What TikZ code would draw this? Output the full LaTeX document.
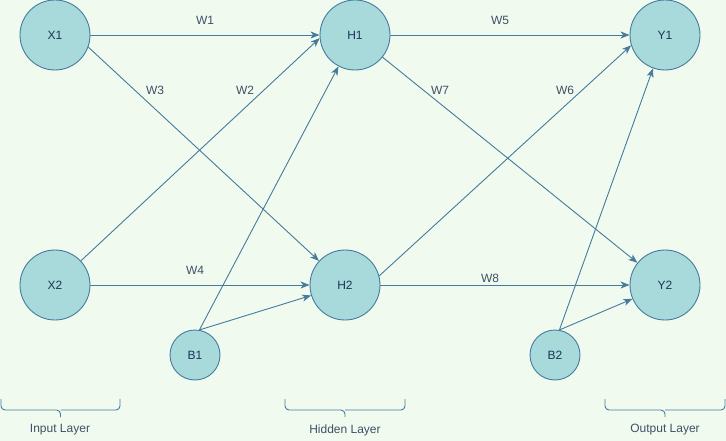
\documentclass[tikz,border=0pt]{standalone}
\usepackage{fontspec}
\setmainfont{Liberation Sans}
\usepackage{xcolor}
\usetikzlibrary{arrows.meta}
\definecolor{bgcol}{HTML}{F1FAEE}
\definecolor{fillcol}{HTML}{A8DADC}
\definecolor{linecol}{HTML}{457B9D}
\definecolor{txtcol}{HTML}{1D3557}
\definecolor{lblcol}{HTML}{3F5166}
% layer bracket from x=#1 to x=#2
\newcommand{\layerbrace}[2]{%
    \draw[bracket] (#1,399) |- ({(#1+#2)/2},410) -- ++(0,7);
    \draw[bracket] (#2,399) |- ({(#1+#2)/2},410);
}

\begin{document}
\begin{tikzpicture}[x=1pt,y=-1pt]
    \tikzstyle{every node}=[font={\fontsize{12}{14}\selectfont}]
    \tikzstyle{neuron}=[circle, draw=linecol, fill=fillcol, line width=0.9pt, minimum size=70pt, inner sep=0pt, text=txtcol]
    \tikzstyle{bias}=[neuron, minimum size=50pt]
    \tikzstyle{conn}=[draw=linecol, line width=0.9pt, -{Stealth[length=9pt,width=7pt,inset=2.5pt]}]
    \tikzstyle{wlabel}=[text=lblcol, inner sep=1pt]
    \tikzstyle{bracket}=[draw=linecol, line width=0.9pt, rounded corners=4pt]
    \fill[bgcol] (0,0) rectangle (726,441);
    \useasboundingbox (0,0) rectangle (726,441);
    % neurons
    \node[neuron] (x1) at (55,35) {X1};
    \node[neuron] (x2) at (55,285) {X2};
    \node[neuron] (h1) at (355,35) {H1};
    \node[neuron] (h2) at (345,285) {H2};
    \node[neuron] (y1) at (665,35) {Y1};
    \node[neuron] (y2) at (665,285) {Y2};
    \node[bias] (b1) at (195,355) {B1};
    \node[bias] (b2) at (555,355) {B2};
    % weights
    \draw[conn] (x1) -- (h1);
    \draw[conn] (x1.-20) -- (h2);
    \draw[conn] (x2) -- (h1.185);
    \draw[conn] (x2) -- (h2);
    \draw[conn] (b1.80) -- (h1);
    \draw[conn] (b1.80) -- (h2);
    \draw[conn] (h1) -- (y1);
    \draw[conn] (h1) -- (y2);
    \draw[conn] (h2.15) -- (y1.197);
    \draw[conn] (h2) -- (y2);
    \draw[conn] (b2.80) -- (y1);
    \draw[conn] (b2.80) -- (y2);
    \node[wlabel] (w1) at (205,20) {W1};
    \node[wlabel] (w2) at (245,90) {W2};
    \node[wlabel] (w3) at (155,90) {W3};
    \node[wlabel] (w4) at (195,270) {W4};
    \node[wlabel] (w5) at (500,20) {W5};
    \node[wlabel] (w6) at (565,90) {W6};
    \node[wlabel] (w7) at (440,90) {W7};
    \node[wlabel] (w8) at (490,278) {W8};
    % layers
    \layerbrace{1}{120}
    \layerbrace{285}{405}
    \layerbrace{605}{725}
    \node[wlabel] (inlayer) at (60,430) {Input Layer};
    \node[wlabel] (hidlayer) at (345,430) {Hidden Layer};
    \node[wlabel] (outlayer) at (665,430) {Output Layer};
\end{tikzpicture}
\end{document}
